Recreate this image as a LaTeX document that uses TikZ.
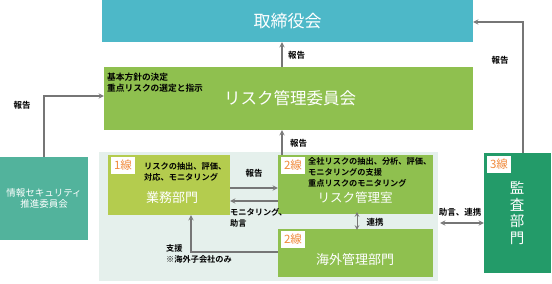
\documentclass[tikz,border=0pt]{standalone}
\usepackage{fontspec}
\setmainfont{Noto Sans CJK JP}[BoldFont={Noto Sans CJK JP Bold}]
\usetikzlibrary{calc}

\definecolor{boardblue}{RGB}{77,184,200}
\definecolor{riskgreen}{RGB}{143,192,79}
\definecolor{bizgreen}{RGB}{180,204,78}
\definecolor{auditgreen}{RGB}{35,155,105}
\definecolor{secgreen}{RGB}{82,179,156}
\definecolor{panelgray}{RGB}{229,240,236}
\definecolor{lineorange}{RGB}{240,138,60}
\definecolor{arrowgray}{RGB}{118,118,118}

\begin{document}
\begin{tikzpicture}[x=1pt, y=-1pt, >=stealth,
  box/.style={inner sep=0pt, text=white},
  orgtitle/.style={text=white, inner sep=0pt, font=\fontsize{13}{15}\selectfont},
  note/.style={inner sep=0pt, align=left, font=\bfseries\fontsize{8.2}{11}\selectfont},
  lbl/.style={inner sep=0pt, font=\bfseries\fontsize{8.5}{10}\selectfont},
  linetag/.style={fill=white, text=lineorange, inner sep=1.5pt, minimum width=24pt, minimum height=17pt, font=\fontsize{11.5}{12}\selectfont},
  flow/.style={draw=arrowgray, line width=1.3pt}
]
  \useasboundingbox (0,0) rectangle (552,284);

  % upper level
  \node[box, fill=boardblue, minimum width=371pt, minimum height=42pt, font=\fontsize{17}{18}\selectfont] (board) at (287.5,21) {取締役会};
  \node[box, fill=riskgreen, minimum width=369pt, minimum height=63pt] (committee) at (288.5,98.5) {};
  \node[orgtitle, font=\fontsize{16.5}{18}\selectfont] (committeetitle) at (290,98) {リスク管理委員会};
  \node[note, anchor=west, font=\bfseries\fontsize{8.7}{11}\selectfont] (committeenote) at (107,83) {基本方針の決定\\重点リスクの選定と指示};

  % left and right
  \node[box, fill=secgreen, minimum width=88pt, minimum height=83pt, align=center, font=\fontsize{9.5}{11.5}\selectfont] (infosec) at (44,198.5) {情報セキュリティ\\推進委員会};
  \node[box, fill=auditgreen, minimum width=67pt, minimum height=120pt] (audit) at (517.5,213) {};
  \node[orgtitle, align=center, font=\fontsize{14.5}{16.5}\selectfont] (audittitle) at (517,213) {監\\査\\部\\門};

  % lines of defence
  \node[fill=panelgray, minimum width=339pt, minimum height=129pt, inner sep=0pt] (panel) at (268.5,216.5) {};
  \node[box, fill=bizgreen, minimum width=122pt, minimum height=60pt] (business) at (169,185) {};
  \node[box, fill=riskgreen, minimum width=155pt, minimum height=59pt] (riskoffice) at (355.5,184.5) {};
  \node[box, fill=riskgreen, minimum width=155pt, minimum height=48pt] (overseas) at (355.5,253) {};

  \node[orgtitle] (businesstitle) at (172,198) {業務部門};
  \node[orgtitle, font=\fontsize{12.5}{15}\selectfont] (riskofficetitle) at (355,198) {リスク管理室};
  \node[orgtitle] (overseastitle) at (355,260) {海外管理部門};

  \node[note, anchor=west] (businessnote) at (144,171.5) {リスクの抽出、評価、\\対応、モニタリング};
  \node[note, anchor=west] (riskofficenote) at (308,172) {全社リスクの抽出、分析、評価、\\モニタリングの支援\\重点リスクのモニタリング};

  \node[linetag, anchor=north west] (tag1) at ([shift={(3,2)}]business.north west) {1線};
  \node[linetag, anchor=north west] (tag2) at ([shift={(3,2)}]riskoffice.north west) {2線};
  \node[linetag, anchor=north west] (tag3) at ([shift={(3,2)}]overseas.north west) {2線};
  \node[linetag, anchor=north west] (tag4) at ([shift={(3,3)}]audit.north west) {3線};

  % connectors
  \coordinate (rx) at (282,0);
  \coordinate (ax) at (523,0);
  \coordinate (sx) at (191,0);
  \coordinate (cx) at (357,0);

  \draw[flow, ->] (committee.north -| rx) -- (board.south -| rx);
  \draw[flow, ->] (riskoffice.north -| rx) -- (committee.south -| rx);
  \draw[flow, ->] (infosec.north) -- (infosec.north |- 0,96) -- (committee.west |- 0,96);
  \draw[flow, ->] (audit.north -| ax) |- ([yshift=-1pt]board.east);
  \draw[flow, ->] (business.east |- 0,188) -- (riskoffice.west |- 0,188);
  \draw[flow, ->] (riskoffice.west |- 0,201) -- (business.east |- 0,201);
  \draw[flow, ->] (overseas.west |- 0,252) -| (business.south -| sx);
  \draw[flow, <->, line width=1pt] ([yshift=2pt]riskoffice.south -| cx) -- ([yshift=-1pt]overseas.north -| cx);
  \draw[flow, <->] ([xshift=2pt]panel.east |- 0,223) -- (audit.west |- 0,223);

  % connector labels
  \node[lbl, anchor=west] (lreport1) at (288,55) {報告};
  \node[lbl, anchor=west] (lreport2) at (290,143) {報告};
  \node[lbl] (lreport3) at (22,105) {報告};
  \node[lbl] (lreport4) at (500,60) {報告};
  \node[lbl] (lreport5) at (254,173) {報告};
  \node[note, anchor=west] (ladvice) at (230,218) {モニタリング、\\助言};
  \node[note, anchor=west] (lsupport) at (166,254) {支援\\※海外子会社のみ};
  \node[lbl] (lcoop) at (375,222) {連携};
  \node[lbl] (lauditcoop) at (460,212) {助言、連携};
\end{tikzpicture}
\end{document}
